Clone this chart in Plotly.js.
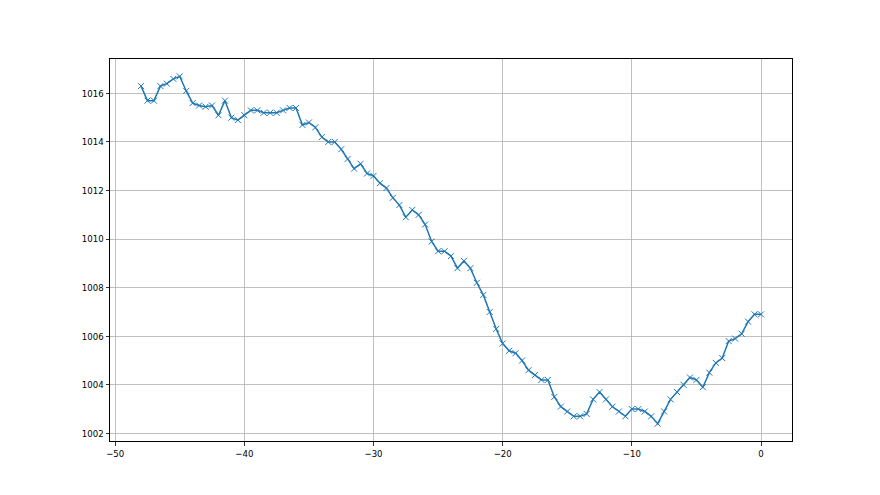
<!DOCTYPE html>
<html>
<head>
<meta charset="utf-8">
<script src="https://cdn.plot.ly/plotly-3.0.1.min.js"></script>
<style>html,body{margin:0;padding:0;background:#fff;}#chart{width:880px;height:495px;}</style>
</head>
<body>
<div id="chart"></div>
<script>
const hours = [-48,-47.5,-47,-46.5,-46,-45.5,-45,-44.5,-44,-43.5,-43,-42.5,-42,-41.5,-41,-40.5,-40,-39.5,-39,-38.5,-38,-37.5,-37,-36.5,-36,-35.5,-35,-34.5,-34,-33.5,-33,-32.5,-32,-31.5,-31,-30.5,-30,-29.5,-29,-28.5,-28,-27.5,-27,-26.5,-26,-25.5,-25,-24.5,-24,-23.5,-23,-22.5,-22,-21.5,-21,-20.5,-20,-19.5,-19,-18.5,-18,-17.5,-17,-16.5,-16,-15.5,-15,-14.5,-14,-13.5,-13,-12.5,-12,-11.5,-11,-10.5,-10,-9.5,-9,-8.5,-8,-7.5,-7,-6.5,-6,-5.5,-5,-4.5,-4,-3.5,-3,-2.5,-2,-1.5,-1,-0.5,0];
const pressure = [1016.3,1015.7,1015.7,1016.3,1016.4,1016.6,1016.7,1016.1,1015.6,1015.5,1015.45,1015.5,1015.1,1015.7,1015.0,1014.9,1015.1,1015.3,1015.3,1015.2,1015.2,1015.2,1015.3,1015.4,1015.4,1014.7,1014.8,1014.6,1014.2,1014.0,1014.0,1013.7,1013.3,1012.9,1013.1,1012.7,1012.6,1012.3,1012.1,1011.7,1011.4,1010.9,1011.2,1011.0,1010.6,1009.9,1009.5,1009.5,1009.3,1008.8,1009.1,1008.8,1008.2,1007.7,1007.0,1006.3,1005.7,1005.4,1005.3,1005.0,1004.6,1004.4,1004.2,1004.2,1003.5,1003.1,1002.9,1002.7,1002.7,1002.8,1003.4,1003.7,1003.4,1003.1,1002.9,1002.7,1003.0,1003.0,1002.9,1002.7,1002.4,1002.9,1003.4,1003.7,1004.0,1004.3,1004.2,1003.9,1004.5,1004.9,1005.1,1005.8,1005.9,1006.1,1006.6,1006.9,1006.9];
const xTicks = [-50,-40,-30,-20,-10,0];
const yTicks = [1002,1004,1006,1008,1010,1012,1014,1016];

const trace = {
  x: hours, y: pressure, type: 'scatter', mode: 'lines+markers',
  line: {color: '#1f77b4', width: 1.5},
  marker: {symbol: 'x-thin', size: 6, line: {color: '#1f77b4', width: 1}},
  hoverinfo: 'none'
};
const axisCommon = {
  showgrid: true, gridcolor: '#b0b0b0', gridwidth: 0.8,
  showline: true, linecolor: '#000', linewidth: 1, mirror: true,
  ticks: 'outside', ticklen: 3.5, tickwidth: 0.8, tickcolor: '#000',
  zeroline: false,
  tickfont: {family: '"DejaVu Sans Condensed", "Liberation Sans Narrow", "DejaVu Sans", sans-serif', size: 9.5, color: '#000'}
};
const xmin = Math.min(...hours), xmax = Math.max(...hours);
const ymin = Math.min(...pressure), ymax = Math.max(...pressure);
const xpad = (xmax - xmin) * 0.05, ypad = (ymax - ymin) * 0.05;
const layout = {
  width: 880, height: 495,
  margin: {l: 110, r: 88, t: 59, b: 54},
  paper_bgcolor: '#fff', plot_bgcolor: '#fff',
  showlegend: false,
  xaxis: Object.assign({}, axisCommon, {range: [xmin - xpad, xmax + xpad], tickvals: xTicks, ticktext: xTicks.map(v => v < 0 ? '\u2212' + Math.abs(v) : String(v))}),
  yaxis: Object.assign({}, axisCommon, {range: [ymin - ypad, ymax + ypad], tickvals: yTicks, ticktext: yTicks.map(String)})
};
Plotly.newPlot('chart', [trace], layout, {staticPlot: true, displayModeBar: false});
</script>
</body>
</html>
